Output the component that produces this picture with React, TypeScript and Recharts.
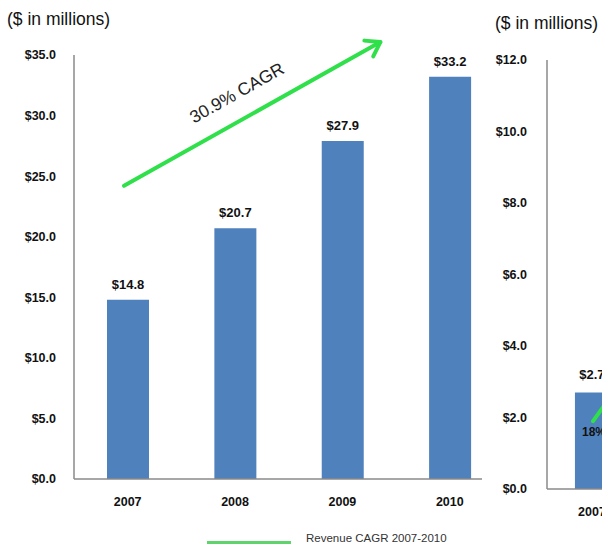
import React from 'react';
import { BarChart, Bar, XAxis, YAxis, LabelList, ReferenceLine } from 'recharts';

// left panel: revenue
const years = ['2007', '2008', '2009', '2010'];
const revenue = [14.8, 20.7, 27.9, 33.2];
const leftTicks = [0, 5, 10, 15, 20, 25, 30, 35];
const cagrLabel = '30.9% CAGR';
// arrow ends in category units (0 = 2007) and $ millions
const cagrArrow = [{ x: -0.034, y: 24.2 }, { x: 2.353, y: 36.07 }];

// right panel (cut off at the page edge)
const rightYears = ['2007'];
const rightValues = [2.7];
const rightTicks = [0, 2, 4, 6, 8, 10, 12];
const rightCagrLabel = '18%';
const rightArrow = [{ x: 0.01, y: 1.9 }, { x: 0.9, y: 5.6 }];

const legendLabel = 'Revenue CAGR 2007-2010';

const FONT = '"Liberation Sans", Arial, sans-serif';
const BLUE = '#4f81bd';
const GREEN = '#2fe04a';
const AXIS = '#8a8a8a';

const leftData = years.map((year, i) => ({ slot: i, year, value: revenue[i] }));
const rightData = rightYears.map((year, i) => ({ slot: i, year, value: rightValues[i] }));

const money = (v: number) => `$${v.toFixed(1)}`;

// arrow with open head, label placed above the shaft
const arrowShape = (label: string, mode: 'above' | 'below') => (p: any) => {
  const { x1, y1, x2, y2 } = p;
  const dx = x2 - x1;
  const dy = y2 - y1;
  const len = Math.sqrt(dx * dx + dy * dy);
  const ux = dx / len;
  const uy = dy / len;
  const angle = (Math.atan2(dy, dx) * 180) / Math.PI;
  const head = 16;
  const spread = 0.6;
  const back = Math.atan2(-uy, -ux);
  const hx1 = x2 + head * Math.cos(back + spread);
  const hy1 = y2 + head * Math.sin(back + spread);
  const hx2 = x2 + head * Math.cos(back - spread);
  const hy2 = y2 + head * Math.sin(back - spread);

  let text = null;
  if (mode === 'above') {
    const t = 0.49;
    const nx = uy;
    const ny = -ux;
    const cx = x1 + dx * t + nx * 26;
    const cy = y1 + dy * t + ny * 26;
    text = (
      <text
        x={cx}
        y={cy}
        textAnchor="middle"
        dominantBaseline="central"
        transform={`rotate(${angle} ${cx} ${cy})`}
        fontSize={17.5}
        fill="#222"
        fontFamily={FONT}
      >
        {label}
      </text>
    );
  } else {
    text = (
      <text x={x1 - 11} y={y1 + 15} fontSize={12} fontWeight="bold" fill="#111" fontFamily={FONT}>
        {label}
      </text>
    );
  }

  return (
    <g>
      <line x1={x1} y1={y1} x2={x2} y2={y2} stroke={GREEN} strokeWidth={4} strokeLinecap="round" />
      <polyline
        points={`${hx1},${hy1} ${x2},${y2} ${hx2},${hy2}`}
        fill="none"
        stroke={GREEN}
        strokeWidth={4}
        strokeLinecap="round"
        strokeLinejoin="round"
      />
      {text}
    </g>
  );
};

const tickStyle = { fill: '#111', fontSize: 12.5, fontWeight: 'bold', fontFamily: FONT };

export default function App() {
  return (
    <div
      style={{
        position: 'absolute',
        left: 0,
        top: 0,
        width: 602,
        height: 547,
        overflow: 'hidden',
        background: '#fff',
        fontFamily: FONT,
      }}
    >
      <div style={{ position: 'absolute', left: 7, top: 9, fontSize: 17.5, color: '#111' }}>($ in millions)</div>
      <div style={{ position: 'absolute', left: 495, top: 13, fontSize: 17.5, color: '#111' }}>($ in millions)</div>

      <div style={{ position: 'absolute', left: 0, top: 0 }}>
        <BarChart width={500} height={547} data={leftData} margin={{ top: 55, right: 18, bottom: 38, left: 0 }}>
          <XAxis
            dataKey="slot"
            type="number"
            domain={[-0.5, 3.3]}
            allowDataOverflow
            ticks={[0, 1, 2, 3]}
            tickFormatter={(i: number) => years[i] ?? ''}
            height={30}
            tickSize={0}
            tickMargin={18}
            tick={tickStyle}
            axisLine={{ stroke: AXIS, strokeWidth: 1.5 }}
          />
          <YAxis
            width={74}
            domain={[0, 35]}
            ticks={leftTicks}
            tickFormatter={money}
            tickSize={0}
            tickMargin={18}
            tick={tickStyle}
            axisLine={{ stroke: AXIS, strokeWidth: 1.5 }}
          />
          <Bar dataKey="value" fill={BLUE} barSize={42} isAnimationActive={false}>
            <LabelList
              dataKey="value"
              position="top"
              offset={11}
              formatter={(v: any) => `$${v}`}
              style={{ fill: '#111', fontSize: 13, fontWeight: 'bold', fontFamily: FONT }}
            />
          </Bar>
          <ReferenceLine segment={cagrArrow} ifOverflow="visible" shape={arrowShape(cagrLabel, 'above')} />
        </BarChart>
      </div>

      <div style={{ position: 'absolute', left: 480, top: 0 }}>
        <BarChart width={200} height={547} data={rightData} margin={{ top: 60, right: 26, bottom: 28, left: 0 }}>
          <XAxis
            dataKey="slot"
            type="number"
            domain={[-0.42, 0.58]}
            allowDataOverflow
            ticks={[0]}
            tickFormatter={(i: number) => rightYears[i] ?? ''}
            height={30}
            tickSize={0}
            tickMargin={18}
            tick={tickStyle}
            axisLine={{ stroke: AXIS, strokeWidth: 1.5 }}
          />
          <YAxis
            width={67}
            domain={[0, 12]}
            ticks={rightTicks}
            tickFormatter={money}
            tickSize={0}
            tickMargin={20}
            tick={tickStyle}
            axisLine={{ stroke: AXIS, strokeWidth: 1.5 }}
          />
          <Bar dataKey="value" fill={BLUE} barSize={34} isAnimationActive={false}>
            <LabelList
              dataKey="value"
              position="top"
              offset={13}
              formatter={(v: any) => `$${v}`}
              style={{ fill: '#111', fontSize: 13, fontWeight: 'bold', fontFamily: FONT }}
            />
          </Bar>
          <ReferenceLine segment={rightArrow} ifOverflow="visible" shape={arrowShape(rightCagrLabel, 'below')} />
        </BarChart>
      </div>

      <div style={{ position: 'absolute', left: 207, top: 541, width: 84, height: 3, background: '#5fd46c' }} />
      <div style={{ position: 'absolute', left: 306, top: 532, fontSize: 11.5, color: '#333' }}>
        {legendLabel}
      </div>
    </div>
  );
}
